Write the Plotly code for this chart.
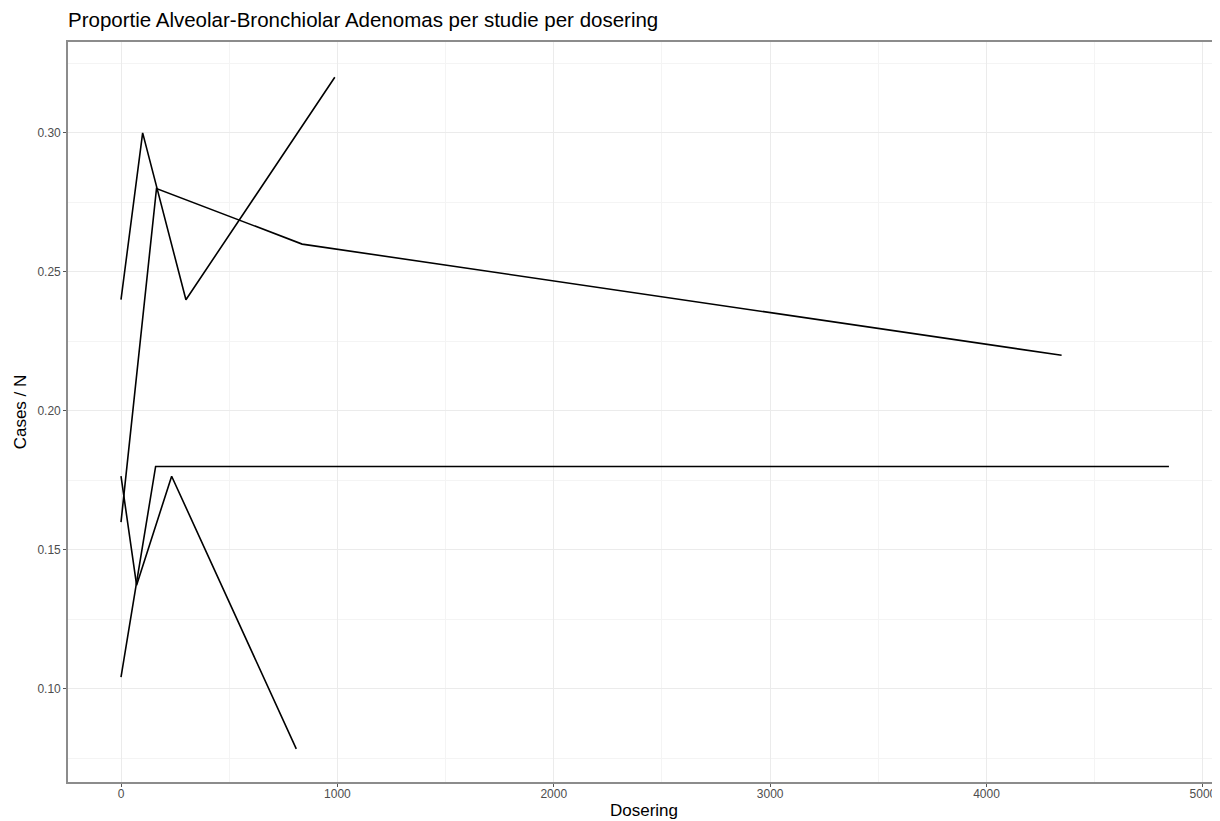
import plotly.graph_objects as go

# Study series (dose, proportion cases/N)
study_a_dose = [0, 100, 300, 988]
study_a_prop = [0.24, 0.30, 0.24, 0.32]

study_b_dose = [0, 164, 837, 4347]
study_b_prop = [0.16, 0.28, 0.26, 0.22]

study_c_dose = [0, 72, 234, 810]
study_c_prop = [0.1765, 0.1373, 0.1765, 0.0784]

study_d_dose = [0, 160, 4843]
study_d_prop = [0.1042, 0.18, 0.18]

series = [
    (study_a_dose, study_a_prop),
    (study_b_dose, study_b_prop),
    (study_c_dose, study_c_prop),
    (study_d_dose, study_d_prop),
]

x_ticks = [0, 1000, 2000, 3000, 4000, 5000]
y_ticks = [0.10, 0.15, 0.20, 0.25, 0.30]
y_tick_labels = ["0.10", "0.15", "0.20", "0.25", "0.30"]

fig = go.Figure()
for dose, prop in series:
    fig.add_trace(go.Scatter(x=dose, y=prop, mode="lines",
                             line=dict(color="black", width=1.6),
                             showlegend=False, hoverinfo="x+y"))

FONT = "Liberation Sans, Arial, sans-serif"
# the page body adds an 8px offset; margins compensate for it
fig.update_layout(
    width=1220, height=821,
    paper_bgcolor="white", plot_bgcolor="white",
    margin=dict(l=60, r=8, t=34, b=47),
    font=dict(family=FONT, color="black"),
    title=dict(text="Proportie Alveolar-Bronchiolar Adenomas per studie per dosering",
               x=0, xref="paper", xanchor="left",
               y=1 - 12 / 821, yref="container", yanchor="middle",
               font=dict(size=20.5, color="black", family=FONT)),
    xaxis=dict(range=[-245, 5079], tickvals=x_ticks, ticktext=[str(v) for v in x_ticks],
               automargin=False,
               showgrid=True, gridcolor="#ebebeb", gridwidth=1.1,
               minor=dict(dtick=500, showgrid=True, gridcolor="#f4f4f4", gridwidth=0.6, tick0=0),
               showline=True, linecolor="#8c8c8c", linewidth=1.6, mirror=True,
               ticks="outside", ticklen=3, tickcolor="#555555", tickwidth=1,
               ticklabelstandoff=-3,
               tickfont=dict(size=12, color="#4d4d4d"), zeroline=False,
               title=dict(text="Dosering", font=dict(size=17, color="black"), standoff=4)),
    yaxis=dict(range=[0.0665, 0.3327], tickvals=y_ticks, ticktext=y_tick_labels,
               automargin=False,
               showgrid=True, gridcolor="#ebebeb", gridwidth=1.1,
               minor=dict(dtick=0.05, tick0=0.075, showgrid=True, gridcolor="#f4f4f4", gridwidth=0.6),
               showline=True, linecolor="#8c8c8c", linewidth=1.6,
               ticks="outside", ticklen=3, tickcolor="#555555", tickwidth=1,
               tickfont=dict(size=12, color="#4d4d4d"), zeroline=False,
               title=dict(text="Cases / N", font=dict(size=17, color="black"), standoff=6)),
)

fig.write_html("out.html")
